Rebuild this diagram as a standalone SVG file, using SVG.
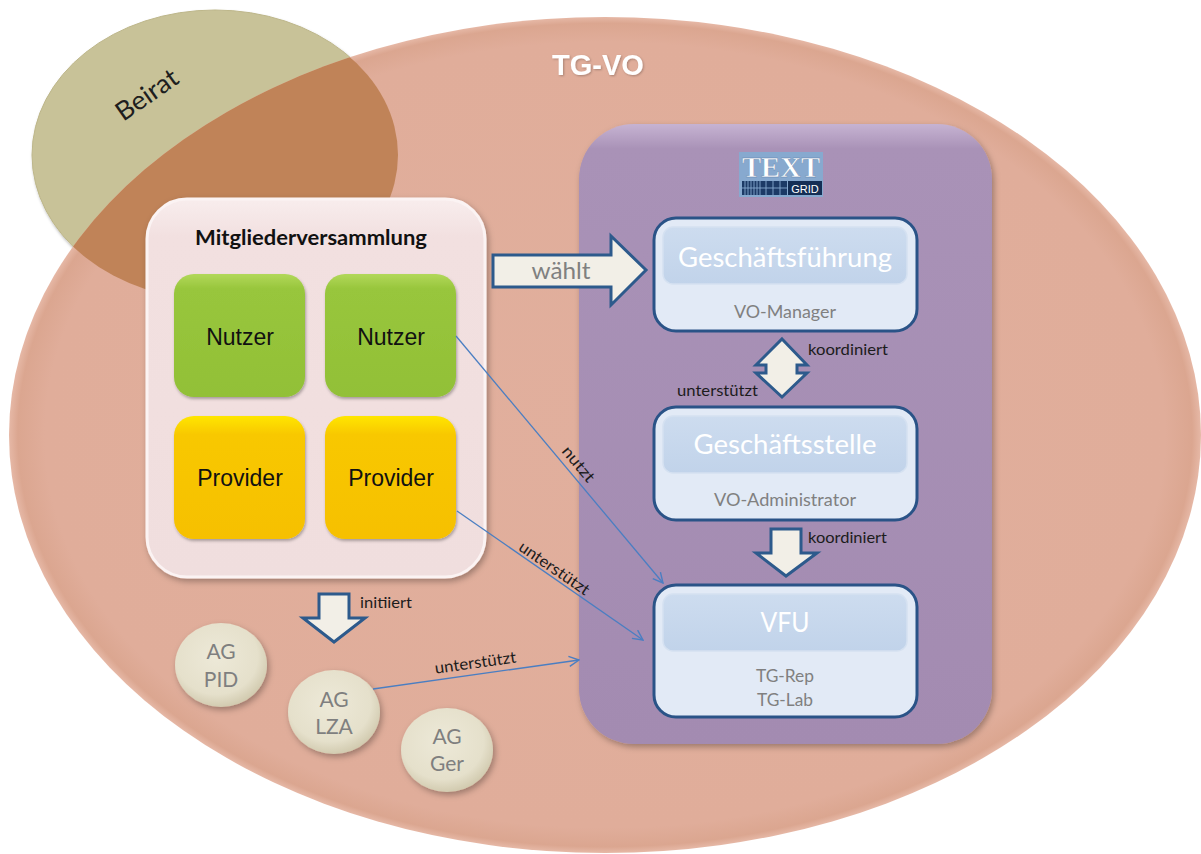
<svg xmlns="http://www.w3.org/2000/svg" width="1201" height="854" viewBox="0 0 1201 854">
<defs>
<style>
.cal{font-family:Lato,"Open Sans","Liberation Sans",sans-serif}
.ari{font-family:"Liberation Sans",Arial,sans-serif}
.lbl{font-family:Lato,"Liberation Sans",sans-serif;font-size:16px;fill:#1c1c1c}
.mid{text-anchor:middle}
.gray{fill:#7f7f7f}
.conn{stroke:#4a7ec2;stroke-width:1.3;fill:none}
.blk{fill:#f2efe7;stroke:#2d5a8c;stroke-width:3;stroke-linejoin:miter}
.outer{fill:#e2eaf6;stroke:#2a5387;stroke-width:3}
.inner{fill:url(#gInner);stroke:#d5e1f1;stroke-width:1.5}
.title{font-family:Lato,"Open Sans",sans-serif;font-size:27px;fill:#ffffff;text-anchor:middle}
.sub{font-family:Lato,"Open Sans",sans-serif;font-size:17px;fill:#808080;text-anchor:middle}
.agt{font-family:Lato,"Open Sans",sans-serif;font-size:21px;fill:#7f7f7f;text-anchor:middle}
.member{font-family:"Liberation Sans",Arial,sans-serif;font-size:23px;fill:#111;text-anchor:middle}
</style>
<radialGradient id="gBig" cx="0.5" cy="0.5" r="0.5">
<stop offset="0" stop-color="#e1af9d"/>
<stop offset="0.94" stop-color="#e0ad9a"/>
<stop offset="0.985" stop-color="#dba690"/>
<stop offset="1" stop-color="#e6b8a6"/>
</radialGradient>
<linearGradient id="gPurple" x1="0" y1="0" x2="0" y2="1">
<stop offset="0" stop-color="#c6b3d2"/>
<stop offset="0.04" stop-color="#a992b7"/>
<stop offset="1" stop-color="#a38bb1"/>
</linearGradient>
<linearGradient id="gMV" x1="0" y1="0" x2="0" y2="1">
<stop offset="0" stop-color="#f8eded"/>
<stop offset="0.1" stop-color="#f2e0e0"/>
<stop offset="1" stop-color="#f0dede"/>
</linearGradient>
<linearGradient id="gGreen" x1="0" y1="0" x2="0" y2="1">
<stop offset="0" stop-color="#b2d85a"/>
<stop offset="0.12" stop-color="#98c63c"/>
<stop offset="1" stop-color="#92c037"/>
</linearGradient>
<linearGradient id="gYellow" x1="0" y1="0" x2="0" y2="1">
<stop offset="0" stop-color="#ffe600"/>
<stop offset="0.15" stop-color="#f8c800"/>
<stop offset="1" stop-color="#f6c000"/>
</linearGradient>
<linearGradient id="gInner" x1="0" y1="0" x2="0" y2="1">
<stop offset="0" stop-color="#cddcef"/>
<stop offset="1" stop-color="#c1d3ea"/>
</linearGradient>
<radialGradient id="gAG" cx="0.45" cy="0.4" r="0.6">
<stop offset="0" stop-color="#ede9d8"/>
<stop offset="0.75" stop-color="#e5e0cb"/>
<stop offset="1" stop-color="#d2cbb0"/>
</radialGradient>
<filter id="sh" x="-15%" y="-15%" width="135%" height="135%">
<feDropShadow dx="2" dy="3" stdDeviation="3" flood-color="#000" flood-opacity="0.3"/>
</filter>
<filter id="shs" x="-10%" y="-10%" width="130%" height="130%">
<feDropShadow dx="1" dy="2" stdDeviation="1.5" flood-color="#000" flood-opacity="0.3"/>
</filter>
<filter id="tsh" x="-10%" y="-20%" width="130%" height="150%">
<feDropShadow dx="1" dy="1" stdDeviation="1" flood-color="#000" flood-opacity="0.25"/>
</filter>
<clipPath id="cBig">
<ellipse cx="605" cy="435" rx="596" ry="418"/>
</clipPath>
<marker id="ah" viewBox="0 0 12 12" refX="11" refY="6" markerWidth="12" markerHeight="12" markerUnits="userSpaceOnUse" orient="auto">
<path d="M1,1 L11,6 L1,11" fill="none" stroke="#4a7ec2" stroke-width="1.4"/>
</marker>
</defs>

<g id="beirat">
<ellipse cx="215" cy="155" rx="183" ry="145" fill="#c8c298" stroke="#bdb68a" stroke-width="1" filter="url(#shs)"/>
</g>

<g id="tgvo">
<ellipse cx="605" cy="435" rx="596" ry="418" fill="url(#gBig)"/>
<ellipse cx="215" cy="155" rx="183" ry="145" fill="#c08358" clip-path="url(#cBig)"/>
<text x="598" y="75" class="ari mid" font-size="29" font-weight="bold" fill="#ffffff" filter="url(#tsh)">TG-VO</text>
</g>

<text class="cal" x="0" y="0" font-size="26" fill="#1e1e1e" text-anchor="middle" textLength="70" lengthAdjust="spacingAndGlyphs" transform="translate(152,102) rotate(-35)">Beirat</text>

<g id="mitgliederversammlung">
<rect x="147" y="199" width="338" height="378" rx="40" fill="url(#gMV)" stroke="#fbf3f3" stroke-width="3" filter="url(#sh)"/>
<text x="311" y="245" class="cal mid" font-size="20" font-weight="bold" fill="#111" textLength="232" lengthAdjust="spacingAndGlyphs">Mitgliederversammlung</text>
</g>

<g id="nutzer1">
<rect x="174" y="274" width="131" height="123" rx="20" fill="url(#gGreen)" filter="url(#shs)"/>
<text x="240" y="345" class="member">Nutzer</text>
</g>
<g id="nutzer2">
<rect x="325" y="274" width="131" height="123" rx="20" fill="url(#gGreen)" filter="url(#shs)"/>
<text x="391" y="345" class="member">Nutzer</text>
</g>
<g id="provider1">
<rect x="174" y="416" width="131" height="123" rx="20" fill="url(#gYellow)" filter="url(#shs)"/>
<text x="240" y="486" class="member">Provider</text>
</g>
<g id="provider2">
<rect x="325" y="416" width="131" height="123" rx="20" fill="url(#gYellow)" filter="url(#shs)"/>
<text x="391" y="486" class="member">Provider</text>
</g>

<g id="textgrid">
<rect x="579" y="124" width="413" height="620" rx="55" fill="url(#gPurple)" filter="url(#sh)"/>
<g id="logo">
<rect x="739" y="152" width="84" height="45" fill="#87a9cf"/>
<text x="781" y="177" font-family="Liberation Serif,serif" font-weight="bold" font-size="29" fill="#ffffff" stroke="#5a7fa8" stroke-width="0.4" text-anchor="middle" textLength="78" lengthAdjust="spacingAndGlyphs">TEXT</text>
<rect x="742" y="181" width="45" height="14" fill="#1c3a66"/>
<g stroke="#87a9cf" stroke-width="0.9">
<line x1="745" y1="181" x2="745" y2="195"/><line x1="748" y1="181" x2="748" y2="195"/>
<line x1="751" y1="181" x2="751" y2="195"/><line x1="754" y1="181" x2="754" y2="195"/>
<line x1="757" y1="181" x2="757" y2="195"/><line x1="760" y1="181" x2="760" y2="195"/>
<line x1="766" y1="181" x2="766" y2="195"/><line x1="773" y1="181" x2="773" y2="195"/>
<line x1="780" y1="181" x2="780" y2="195"/>
<line x1="742" y1="188" x2="787" y2="188"/>
</g>
<rect x="788" y="181" width="34" height="14" fill="#142e55"/>
<text x="805" y="192.5" class="ari mid" font-size="11" fill="#ffffff">GRID</text>
</g>
</g>

<g id="geschaeftsfuehrung">
<rect x="654" y="218" width="263" height="113" rx="22" class="outer"/>
<rect x="663" y="227" width="244" height="57" rx="10" class="inner"/>
<text x="785" y="267" class="title" textLength="214" lengthAdjust="spacingAndGlyphs">Geschäftsführung</text>
<text x="785" y="318" class="sub" textLength="102" lengthAdjust="spacingAndGlyphs">VO-Manager</text>
</g>

<g id="geschaeftsstelle">
<rect x="654" y="407" width="263" height="113" rx="22" class="outer"/>
<rect x="663" y="416" width="244" height="57" rx="10" class="inner"/>
<text x="785" y="454" class="title" textLength="183" lengthAdjust="spacingAndGlyphs">Geschäftsstelle</text>
<text x="785" y="506" class="sub" textLength="142" lengthAdjust="spacingAndGlyphs">VO-Administrator</text>
</g>

<g id="vfu">
<rect x="654" y="585" width="263" height="132" rx="22" class="outer"/>
<rect x="663" y="594" width="244" height="57" rx="10" class="inner"/>
<text x="785" y="632" class="title" textLength="49" lengthAdjust="spacingAndGlyphs">VFU</text>
<text x="785" y="682" class="sub" textLength="58" lengthAdjust="spacingAndGlyphs">TG-Rep</text>
<text x="785" y="706" class="sub" textLength="56" lengthAdjust="spacingAndGlyphs">TG-Lab</text>
</g>

<g id="ag-pid">
<ellipse cx="221" cy="665" rx="46" ry="42" fill="url(#gAG)" filter="url(#sh)"/>
<text x="221" y="659" class="agt">AG</text>
<text x="221" y="687" class="agt">PID</text>
</g>
<g id="ag-lza">
<ellipse cx="334" cy="712" rx="46" ry="42" fill="url(#gAG)" filter="url(#sh)"/>
<text x="334" y="707" class="agt">AG</text>
<text x="334" y="734" class="agt">LZA</text>
</g>
<g id="ag-ger">
<ellipse cx="447" cy="750" rx="46" ry="42" fill="url(#gAG)" filter="url(#sh)"/>
<text x="447" y="744" class="agt">AG</text>
<text x="447" y="771" class="agt">Ger</text>
</g>

<g id="connectors">
<polygon class="blk" points="493,255 611,255 611,236 646,270 611,305 611,287 493,287"/>
<text x="561" y="279" class="cal mid" font-size="23" fill="#808080" textLength="59" lengthAdjust="spacingAndGlyphs">wählt</text>

<polygon class="blk" points="782,339 807,365 797,365 797,373 807,373 782,397 756,373 766,373 766,365 756,365"/>
<text x="808" y="355" class="lbl" textLength="80" lengthAdjust="spacingAndGlyphs">koordiniert</text>
<text x="677" y="396" class="lbl" textLength="81" lengthAdjust="spacingAndGlyphs">unterstützt</text>

<polygon class="blk" points="771,529 801,529 801,553 817,553 786,576 756,553 771,553"/>
<text x="808" y="543" class="lbl" textLength="79" lengthAdjust="spacingAndGlyphs">koordiniert</text>

<polygon class="blk" points="319,594 349,594 349,618 365,618 334,642 303,618 319,618"/>
<text x="360" y="608" class="lbl" textLength="52" lengthAdjust="spacingAndGlyphs">initiiert</text>

<line class="conn" x1="456" y1="336" x2="663" y2="583" marker-end="url(#ah)"/>
<text class="lbl mid" x="0" y="-7" transform="translate(569,472) rotate(50.2)" textLength="42" lengthAdjust="spacingAndGlyphs">nutzt</text>

<line class="conn" x1="457" y1="511" x2="643" y2="640" marker-end="url(#ah)"/>
<text class="lbl mid" x="0" y="-4" transform="translate(549,576) rotate(34.5)" textLength="82" lengthAdjust="spacingAndGlyphs">unterstützt</text>

<line class="conn" x1="373" y1="689" x2="579" y2="660" marker-end="url(#ah)"/>
<text class="lbl mid" x="0" y="-6" transform="translate(477,674) rotate(-7.9)" textLength="82" lengthAdjust="spacingAndGlyphs">unterstützt</text>
</g>
</svg>
